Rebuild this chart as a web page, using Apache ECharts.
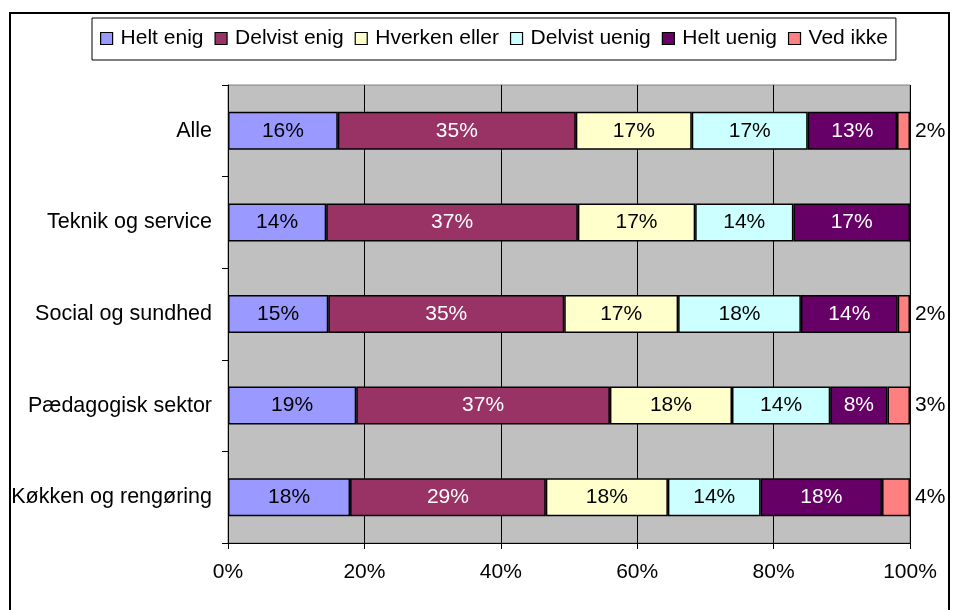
<!DOCTYPE html>
<html>
<head>
<meta charset="utf-8">
<script src="https://cdn.jsdelivr.net/npm/echarts@6/dist/echarts.min.js"></script>
<style>
html,body{margin:0;padding:0;background:#fff;}
#chart{width:953px;height:610px;}
</style>
</head>
<body>
<div id="chart"></div>
<script>
var categories = ['Alle', 'Teknik og service', 'Social og sundhed', 'Pædagogisk sektor', 'Køkken og rengøring'];
var seriesNames = ['Helt enig', 'Delvist enig', 'Hverken eller', 'Delvist uenig', 'Helt uenig', 'Ved ikke'];
var heltEnig     = [16.1, 14.4, 14.7, 18.8, 17.9];
var delvistEnig  = [34.9, 36.9, 34.6, 37.2, 28.7];
var hverkenEller = [17.0, 17.2, 16.7, 17.9, 17.9];
var delvistUenig = [17.0, 14.4, 18.0, 14.4, 13.6];
var heltUenig    = [13.1, 17.1, 14.2, 8.4, 17.8];
var vedIkke      = [1.9, 0, 1.8, 3.3, 4.1];
var xTicks = [0, 20, 40, 60, 80, 100];

var colors = ['#9999FF', '#993366', '#FFFFCC', '#CCFFFF', '#660066', '#FF8080'];
var labelColors = ['#000', '#fff', '#000', '#000', '#fff', '#000'];
var allData = [heltEnig, delvistEnig, hverkenEller, delvistUenig, heltUenig, vedIkke];
var FONT = "'Liberation Sans', Arial, sans-serif";

var series = allData.map(function (d, i) {
  var last = i === allData.length - 1;
  return {
    name: seriesNames[i],
    type: 'bar',
    stack: 'total',
    barWidth: 38,
    data: d,
    itemStyle: { color: colors[i], borderColor: '#000', borderWidth: 1.5 },
    label: {
      show: true,
      position: last ? 'right' : 'inside',
      distance: 5,
      color: labelColors[i],
      fontFamily: FONT,
      fontSize: 21,
      formatter: function (p) { return p.value > 0 ? Math.round(p.value) + '%' : ''; }
    }
  };
});

var chart = echarts.init(document.getElementById('chart'), null, { renderer: 'canvas' });
chart.setOption({
  animation: false,
  textStyle: { fontFamily: FONT },
  legend: {
    data: seriesNames,
    left: 92,
    top: 18,
    padding: [10, 8, 11, 8],
    borderColor: '#000',
    borderWidth: 1,
    itemWidth: 12,
    itemHeight: 12,
    itemGap: 11,
    icon: 'rect',
    itemStyle: { borderColor: '#000', borderWidth: 1.2 },
    textStyle: { fontFamily: FONT, fontSize: 21, color: '#000', padding: [0, 0, 0, 3] }
  },
  grid: {
    left: 228, right: 43, top: 85, bottom: 67,
    show: true, backgroundColor: '#C0C0C0', borderColor: '#808080', borderWidth: 1
  },
  xAxis: {
    type: 'value',
    min: xTicks[0],
    max: xTicks[xTicks.length - 1],
    interval: xTicks[1] - xTicks[0],
    axisLine: { show: true, lineStyle: { color: '#000', width: 1 } },
    axisTick: { show: true, length: 6, lineStyle: { color: '#000' } },
    splitLine: { show: true, lineStyle: { color: '#000', width: 1 } },
    axisLabel: { formatter: '{value}%', fontSize: 21, color: '#000', margin: 19, fontFamily: FONT }
  },
  yAxis: {
    type: 'category',
    data: categories,
    inverse: true,
    axisLine: { show: true, lineStyle: { color: '#000', width: 1 } },
    axisTick: { show: true, length: 6, lineStyle: { color: '#000' } },
    axisLabel: { fontSize: 21.5, color: '#000', margin: 16, fontFamily: FONT }
  },
  graphic: [{
    type: 'rect',
    shape: { x: 10, y: 13, width: 939, height: 640 },
    style: { fill: 'none', stroke: '#000', lineWidth: 2 },
    silent: true,
    z: 100
  }],
  series: series
});
</script>
</body>
</html>
